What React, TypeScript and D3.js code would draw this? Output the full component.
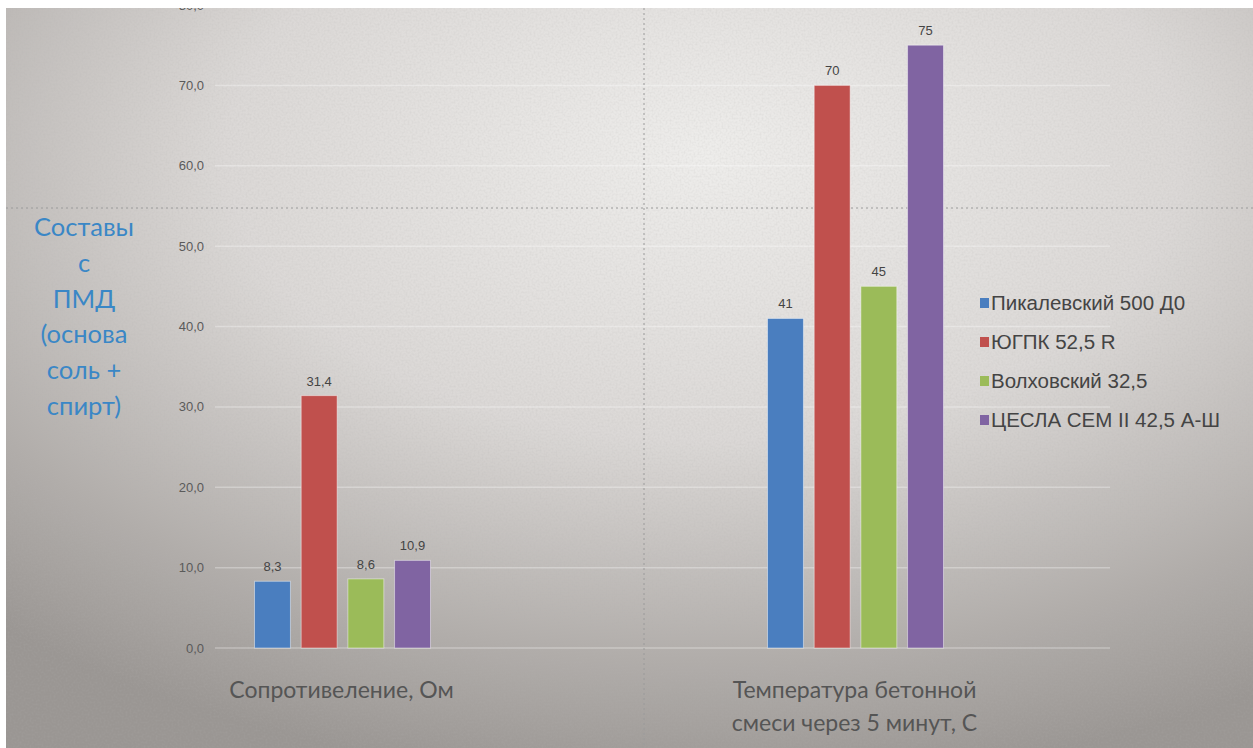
import React from "react";
import * as d3 from "d3";

const categories = ["Сопротивеление, Ом", "Температура бетонной смеси через 5 минут, С"];
const categoryLines = [["Сопротивеление, Ом"], ["Температура бетонной", "смеси через 5 минут, С"]];
const seriesNames = ["Пикалевский 500 Д0", "ЮГПК 52,5 R", "Волховский 32,5", "ЦЕСЛА CEM II 42,5 А-Ш"];
const seriesColors = ["#4a7ebf", "#c0504d", "#9bbb59", "#8064a2"];
const pikalevsky = [8.3, 41];
const ugpk = [31.4, 70];
const volkhovsky = [8.6, 45];
const cesla = [10.9, 75];
const seriesValues = [pikalevsky, ugpk, volkhovsky, cesla];
const yTicks = [0, 10, 20, 30, 40, 50, 60, 70, 80];
const titleLines = ["Составы", "с", "ПМД", "(основа", "соль +", "спирт)"];

const W = 1253;
const H = 748;

export default function App() {
  const y = d3.scaleLinear().domain([0, 80]).range([648, 5]);
  const x = d3.scalePoint<string>().domain(categories).range([342.5, 855.5]);
  const inner = d3.scaleBand<string>().domain(seriesNames).range([-88, 88]).paddingInner(0.23);
  const fmtTick = (v: number) => d3.format(".1f")(v).replace(".", ",");
  const fmtVal = (v: number, ci: number) => (ci === 0 ? d3.format(".1f")(v).replace(".", ",") : d3.format("d")(v));

  return (
    <svg width={W} height={H} style={{ position: "absolute", left: 0, top: 0 }}>
      <defs>
        <radialGradient id="bg" cx="0.56" cy="0.2" r="0.85" fx="0.56" fy="0.2">
          <stop offset="0" stopColor="#eeedeb" />
          <stop offset="0.45" stopColor="#dbd8d6" />
          <stop offset="0.8" stopColor="#b1adaa" />
          <stop offset="1" stopColor="#9a9693" />
        </radialGradient>
        <filter id="noise" x="0" y="0" width="100%" height="100%">
          <feTurbulence type="fractalNoise" baseFrequency="0.5" numOctaves="3" seed="3" result="t" />
          <feColorMatrix type="matrix" values="0 0 0 0 0.45  0 0 0 0 0.44  0 0 0 0 0.43  0 0 0 1.2 -0.45" />
        </filter>
        <clipPath id="clip">
          <rect x={6} y={8} width={W - 6} height={H - 8} />
        </clipPath>
      </defs>
      <rect x={0} y={0} width={W} height={H} fill="#ffffff" />
      <g clipPath="url(#clip)">
        <rect x={6} y={8} width={W - 6} height={H - 8} fill="url(#bg)" />
        <rect x={6} y={8} width={W - 6} height={H - 8} filter="url(#noise)" opacity={0.3} />
        {yTicks.map((t) => (
          <line key={"g" + t} x1={215} x2={1110} y1={y(t)} y2={y(t)} stroke="#ffffff" strokeOpacity={0.3} strokeWidth={1.5} />
        ))}
        <line x1={6} x2={W} y1={208} y2={208} stroke="#9a9a9a" strokeWidth={1} strokeDasharray="2,3" />
        <line x1={644} x2={644} y1={8} y2={H} stroke="#9a9a9a" strokeWidth={1} strokeDasharray="2,3" />
        {yTicks.map((t) => (
          <text key={"t" + t} x={204} y={y(t)} dy="0.35em" textAnchor="end" fontFamily="'Liberation Sans Narrow', 'Liberation Sans', Arial, sans-serif" fontSize={13} fill="#5a5a5a">
            {fmtTick(t)}
          </text>
        ))}
        {categories.map((c, ci) =>
          seriesNames.map((s, si) => {
            const v = seriesValues[si][ci];
            const bx = (x(c) as number) + (inner(s) as number);
            const bw = inner.bandwidth();
            return (
              <g key={c + s}>
                <rect x={bx} y={y(v)} width={bw} height={y(0) - y(v)} fill={seriesColors[si]} stroke="#ffffff" strokeOpacity={0.45} strokeWidth={1} />
                <text x={bx + bw / 2} y={y(v) - 10} textAnchor="middle" fontFamily="'Liberation Sans Narrow', 'Liberation Sans', Arial, sans-serif" fontSize={13} fill="#444">
                  {fmtVal(v, ci)}
                </text>
              </g>
            );
          })
        )}
        {categories.map((c, ci) =>
          categoryLines[ci].map((ln, li) => (
            <text key={c + li} x={(x(c) as number) - 1} y={690 + li * 33} dy="0.35em" textAnchor="middle" fontFamily="Lato, 'Open Sans', sans-serif" fontSize={23} fill="#555">
              {ln}
            </text>
          ))
        )}
        {titleLines.map((ln, i) => (
          <text key={"tl" + i} x={84} y={227 + i * 35.8} dy="0.35em" textAnchor="middle" fontFamily="Lato, 'Open Sans', sans-serif" fontSize={25.5} fill="#3a87c6">
            {ln}
          </text>
        ))}
        {seriesNames.map((s, si) => (
          <g key={"lg" + s} transform={`translate(980, ${303 + si * 39})`}>
            <rect x={0} y={-5} width={9} height={10} fill={seriesColors[si]} />
            <text x={11} y={0} dy="0.35em" fontFamily="'Liberation Sans', Arial, sans-serif" fontSize={20.5} fill="#444">
              {s}
            </text>
          </g>
        ))}
      </g>
    </svg>
  );
}
